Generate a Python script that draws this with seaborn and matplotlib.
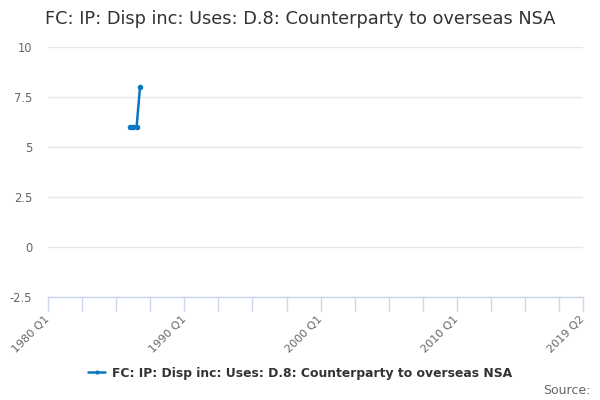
import numpy as np
import pandas as pd
import matplotlib
matplotlib.use('Agg')
import matplotlib.pyplot as plt
import seaborn as sns

# quarterly categories 1980 Q1 .. 2019 Q2
quarters = [f'{y} Q{q}' for y in range(1980, 2020) for q in range(1, 5)]
quarters = quarters[:quarters.index('2019 Q2') + 1]

# observed values (only four quarters have data)
obs_quarters = ['1986 Q1', '1986 Q2', '1986 Q3', '1986 Q4']
obs_values = [6, 6, 6, 8]

y_ticks = [-2.5, 0, 2.5, 5, 7.5, 10]
series_name = 'FC: IP: Disp inc: Uses: D.8: Counterparty to overseas NSA'
line_color = '#0a77bf'
axis_color = '#ccd6eb'

df = pd.DataFrame({
    'pos': [quarters.index(q) for q in obs_quarters],
    'value': obs_values,
})

sns.set_style('white')
plt.rcParams['font.family'] = ['DejaVu Sans']

fig = plt.figure(figsize=(6, 4), dpi=100)
ax = fig.add_axes([48 / 600, 103 / 400, 535 / 600, 250 / 400])

sns.lineplot(data=df, x='pos', y='value', ax=ax, color=line_color,
             linewidth=1.8, marker='o', markersize=4, markeredgewidth=0)

ax.set_xlim(0, len(quarters) - 1)
ax.set_ylim(-2.5, 10)
ax.set_yticks(y_ticks)
ax.set_yticklabels(['-2.5', '0', '2.5', '5', '7.5', '10'], color='#666666', fontsize=8.3)
ax.yaxis.grid(True, color='#e6e6e6', linewidth=1)
ax.tick_params(axis='y', length=0, pad=11.5, left=False)

# x ticks every 10 quarters, labels every 40 quarters plus last
xt = list(range(0, len(quarters), 10)) + [len(quarters) - 1]
ax.set_xticks(xt)
ax.set_xticklabels([quarters[i] if (i % 40 == 0 or i == len(quarters) - 1) else '' for i in xt],
                   rotation=45, ha='right', va='center', rotation_mode='anchor',
                   color='#666666', fontsize=8)
ax.tick_params(axis='x', bottom=True, direction='out', length=10, color=axis_color, width=1, pad=5)
ax.set_xlabel('')
ax.set_ylabel('')

for s in ['top', 'right', 'left']:
    ax.spines[s].set_visible(False)
ax.spines['bottom'].set_color(axis_color)
ax.spines['bottom'].set_linewidth(1)

fig.text(45 / 600, 1 - 19 / 400, series_name, fontsize=12.75, color='#333333', va='center', ha='left')

handle = plt.Line2D([], [], color=line_color, linewidth=1.8, marker='o', markersize=3, markeredgewidth=0)
fig.legend([handle], [series_name], loc='center', bbox_to_anchor=(0.5, 1 - 373 / 400),
           frameon=False, handlelength=1.4, handletextpad=0.5,
           prop={'weight': 'bold', 'size': 8.95}, labelcolor='#333333')

fig.text(590 / 600, 1 - 390 / 400, 'Source:', fontsize=9, color='#666666', ha='right', va='center')

fig.savefig('out.png', dpi=100)
